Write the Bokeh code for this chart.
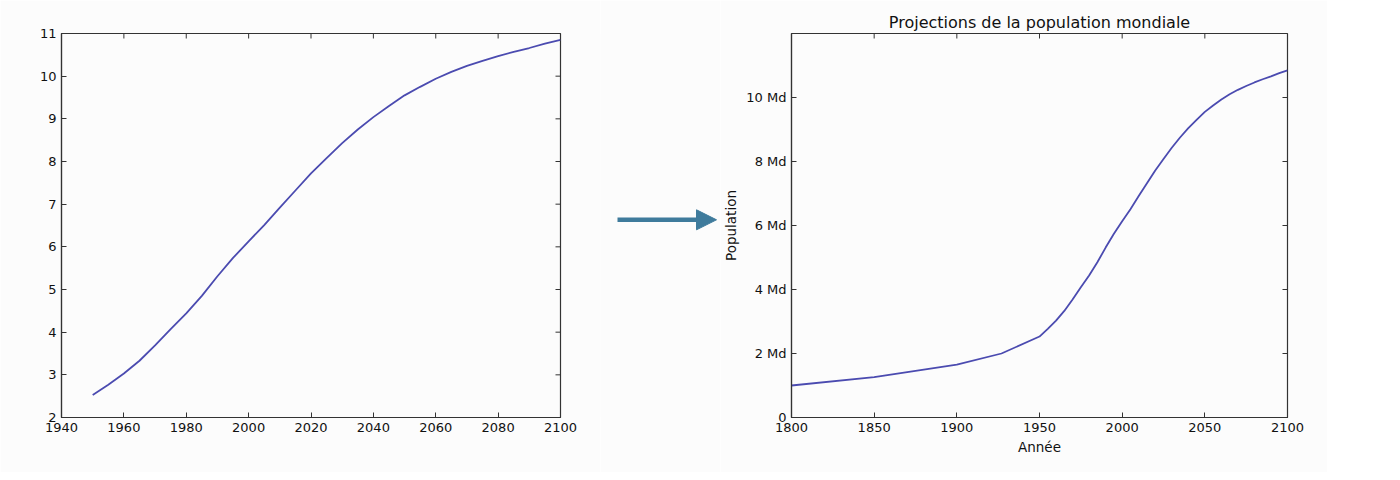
from bokeh.plotting import figure
from bokeh.layouts import row
from bokeh.models import Range1d, FixedTicker, Arrow, NormalHead
from bokeh.embed import file_html
from bokeh.resources import INLINE

# ---- data (world population, billions) ----
proj_years = [1950, 1955, 1960, 1965, 1970, 1975, 1980, 1985, 1990, 1995,
              2000, 2005, 2010, 2015, 2020, 2025, 2030, 2035, 2040, 2045,
              2050, 2055, 2060, 2065, 2070, 2075, 2080, 2085, 2090, 2095, 2100]
proj_pop = [2.53, 2.77, 3.03, 3.33, 3.69, 4.07, 4.44, 4.85, 5.31, 5.74,
            6.13, 6.51, 6.92, 7.32, 7.72, 8.08, 8.43, 8.75, 9.04, 9.30,
            9.55, 9.75, 9.94, 10.10, 10.24, 10.36, 10.47, 10.57, 10.66, 10.76, 10.85]
hist_years = [1800, 1850, 1900, 1927]
hist_pop = [1.00, 1.26, 1.65, 2.00]

left_xticks = [1940, 1960, 1980, 2000, 2020, 2040, 2060, 2080, 2100]
left_yticks = [2, 3, 4, 5, 6, 7, 8, 9, 10, 11]
right_xticks = [1800, 1850, 1900, 1950, 2000, 2050, 2100]
right_yticks = [0, 2, 4, 6, 8, 10]
right_ylabels = ["0", "2 Md", "4 Md", "6 Md", "8 Md", "10 Md"]

title_text = "Projections de la population mondiale"
xlabel_text = "Année"
ylabel_text = "Population"

FONT = "DejaVu Sans"
BG = "#fcfcfc"
LINE = "#4b4bb0"
FRAME = "#333333"
TXT = "#111111"
H = 472


def style_axis(ax, ticks):
    ax.ticker = FixedTicker(ticks=ticks)
    ax.major_tick_in = 5
    ax.major_tick_out = 0
    ax.minor_tick_in = 0
    ax.minor_tick_out = 0
    ax.axis_line_color = FRAME
    ax.axis_line_width = 1.2
    ax.major_tick_line_color = FRAME
    ax.major_tick_line_width = 1
    ax.major_label_text_font = FONT
    ax.major_label_text_font_size = "13px"
    ax.major_label_text_color = TXT
    ax.major_label_standoff = 5
    ax.axis_label_text_font = FONT
    ax.axis_label_text_font_size = "13.5px"
    ax.axis_label_text_font_style = "normal"
    ax.axis_label_text_color = TXT
    ax.axis_label_standoff = 4


def make_fig(width, xr, yr, xt, yt, mbl, mbr):
    p = figure(width=width, height=H, x_range=Range1d(*xr), y_range=Range1d(*yr),
               output_backend="svg", toolbar_location=None,
               min_border_left=mbl, min_border_right=mbr,
               min_border_top=33, min_border_bottom=H - 33 - 384)
    p.background_fill_color = BG
    p.border_fill_color = BG
    p.outline_line_color = FRAME
    p.outline_line_width = 1.2
    p.grid.visible = False
    style_axis(p.xaxis[0], xt)
    style_axis(p.yaxis[0], yt)
    # mirrored inward ticks on top and right edges (matplotlib classic look)
    p.ray(x=xt, y=[yr[1]] * len(xt), length=5, length_units="screen",
          angle=-90, angle_units="deg", line_color=FRAME, line_width=1)
    p.ray(x=[xr[1]] * len(yt), y=yt, length=5, length_units="screen",
          angle=180, angle_units="deg", line_color=FRAME, line_width=1)
    return p


# ---- left chart ----
p1 = make_fig(600, (1940, 2100), (2, 11), left_xticks, left_yticks, 61, 40)
p1.line(proj_years, proj_pop, line_color=LINE, line_width=1.8)

# ---- middle arrow ----
pm = figure(width=120, height=H, x_range=Range1d(0, 120), y_range=Range1d(0, H),
            x_axis_type=None, y_axis_type=None,
            output_backend="svg", toolbar_location=None, min_border=0)
pm.grid.visible = False
pm.outline_line_color = None
pm.background_fill_color = BG
pm.border_fill_color = BG
ARROW_C = "#3f7b9c"
ARROW_Y = 243
pm.add_layout(Arrow(x_start=17, y_start=ARROW_Y, x_end=116, y_end=ARROW_Y,
                    line_color=ARROW_C, line_width=4.5,
                    end=NormalHead(size=20, fill_color=ARROW_C, line_color=ARROW_C,
                                   line_width=1)))

# ---- right chart ----
p2 = make_fig(607, (1800, 2100), (0, 12), right_xticks, right_yticks, 69, 40)
p2.yaxis[0].major_label_overrides = {v: s for v, s in zip(right_yticks, right_ylabels)}
p2.xaxis[0].axis_label = xlabel_text
p2.yaxis[0].axis_label = ylabel_text
p2.title.text = title_text
p2.title.text_font = FONT
p2.title.text_font_size = "16px"
p2.title.text_font_style = "normal"
p2.title.text_color = TXT
p2.title.align = "center"
p2.title.standoff = 4
p2.line(hist_years + proj_years, hist_pop + proj_pop, line_color=LINE, line_width=1.8)

layout = row(p1, pm, p2, spacing=0)
open("out.html", "w").write(file_html(layout, INLINE))
